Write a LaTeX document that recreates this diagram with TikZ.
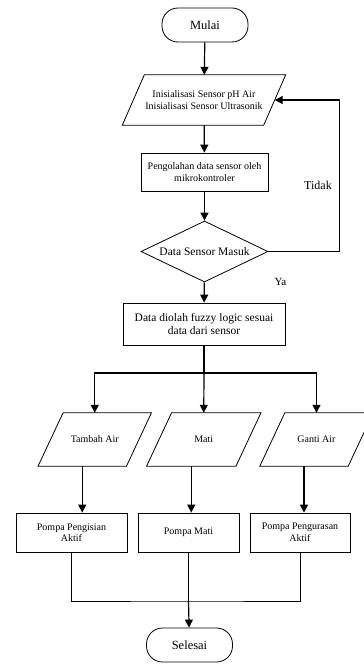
\documentclass[tikz,border=0pt]{standalone}
\usepackage{fontspec}
\setmainfont{Liberation Serif}
\usetikzlibrary{shapes.geometric,arrows.meta}

\begin{document}
\begin{tikzpicture}[x=1pt,y=-1pt,
    box/.style={draw, line width=0.8pt, rectangle, inner sep=0pt, align=center, font=\fontsize{10}{11.5}\selectfont},
    terminal/.style={draw, line width=0.8pt, rectangle, rounded corners=16pt, inner sep=0pt, minimum width=86pt, minimum height=34pt, font=\fontsize{12.5}{14}\selectfont},
    io/.style={rectangle, inner sep=0pt, align=center, font=\fontsize{10}{11.5}\selectfont},
    decision/.style={draw, line width=0.8pt, diamond, aspect=2, inner sep=0pt, minimum width=127pt, minimum height=61pt, font=\fontsize{11.5}{13}\selectfont},
    line/.style={line width=0.8pt},
    arrow/.style={line width=1.2pt, -{Triangle[length=8pt,width=8pt]}},
    label/.style={font=\fontsize{12}{14}\selectfont}]
    \useasboundingbox (0,0) rectangle (364,664);

    %mark points of the flow
        \coordinate[] (split) at (204,373);
        \coordinate[] (join) at (188.5,601);

    %draw boxes
        \node[terminal] (mulai) at (205,25) {Mulai};
        \node[io, minimum width=141pt, minimum height=50pt] (init) at (204,100) {Inisialisasi Sensor pH Air\\Inisialisasi Sensor Ultrasonik};
        \node[box, minimum width=127pt, minimum height=38pt] (olah) at (204.5,172) {Pengolahan data sensor oleh\\mikrokontroler};
        \node[decision] (cek) at (204.5,251.5) {Data Sensor Masuk};
        \node[box, minimum width=162pt, minimum height=42pt, font=\fontsize{11.5}{13}\selectfont] (fuzzy) at (204,324) {Data diolah fuzzy logic sesuai\\data dari sensor};
        \node[io, minimum width=88pt, minimum height=53pt] (tambah) at (94.75,439.5) {Tambah Air};
        \node[io, minimum width=89pt, minimum height=53pt] (mati) at (203.75,439.5) {Mati};
        \node[io, minimum width=88pt, minimum height=53pt] (ganti) at (316.5,439.5) {Ganti Air};
        \node[box, minimum width=111pt, minimum height=39pt] (isi) at (71.5,532.5) {Pompa Pengisian\\Aktif};
        \node[box, minimum width=101pt, minimum height=39pt] (pmati) at (188.5,532.5) {Pompa Mati};
        \node[box, minimum width=100pt, minimum height=39pt] (kuras) at (300,532.5) {Pompa Pengurasan\\Aktif};
        \node[terminal] (selesai) at (189.5,645) {Selesai};

    %draw parallelograms round the io nodes
        \foreach \n/\s in {init/11, tambah/12.5, mati/12.5, ganti/12.5}
            \draw[line] ([xshift=\s pt]\n.north west) -- ([xshift=\s pt]\n.north east)
                -- ([xshift=-\s pt]\n.south east) -- ([xshift=-\s pt]\n.south west) -- cycle;

    %draw connectors
        \draw[arrow] (mulai) -- (init);
        \draw[arrow] (init) -- (olah);
        \draw[arrow] (olah) -- (cek);
        \draw[arrow] (cek.east) -- ++(71,0) |- (init.east);
        \node[label] (tidak) at (318,185) {Tidak};
        \draw[arrow] (cek) -- (fuzzy);
        \node[label, font=\fontsize{11}{13}\selectfont] (ya) at (280.5,282) {Ya};
        \draw[line width=1.2pt] (fuzzy) -- (split);
        \draw[arrow] (split) -| (tambah.north);
        \draw[arrow] (split) -- (mati.north);
        \draw[arrow] (split) -| (ganti.north);
        \draw[arrow] ([xshift=-12.5pt]tambah.south) -- ([xshift=-12.5pt]tambah.south |- isi.north);
        \draw[arrow] ([xshift=-12.5pt]mati.south) -- ([xshift=-12.5pt]mati.south |- pmati.north);
        \draw[arrow] ([xshift=-12.5pt]ganti.south) -- ([xshift=-12.5pt]ganti.south |- kuras.north);
        \draw[line] (isi) |- (join) -| (kuras);
        \draw[line] (pmati) -- (join);
        \draw[arrow] (join) -- (selesai);

\end{tikzpicture}
\end{document}
